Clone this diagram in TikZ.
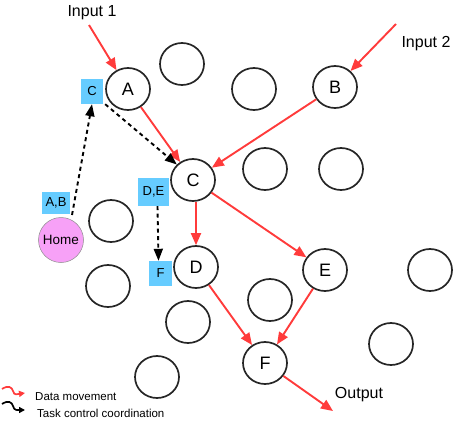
\documentclass[tikz,border=0pt]{standalone}
\usepackage{fontspec}
\setmainfont{Liberation Sans}
\usetikzlibrary{arrows.meta,shapes.geometric}
\definecolor{dred}{HTML}{FF3B3B}
\definecolor{tblue}{HTML}{66CCFF}
\definecolor{hpink}{HTML}{F7A1F7}
\begin{document}
\begin{tikzpicture}[x=1pt,y=-1pt,
  pe/.style={draw=black!85,line width=1.7pt,ellipse,minimum width=44pt,minimum height=42pt,inner sep=0pt,font=\fontsize{18}{18}\selectfont},
  tbox/.style={fill=tblue,inner sep=0pt,font=\fontsize{13}{13}\selectfont},
  dm/.style={draw=dred,line width=1.9pt,-{Triangle[length=12pt,width=10pt]}},
  tc/.style={draw=black,line width=1.9pt,dash pattern=on 4pt off 3.5pt,-{Triangle[length=12pt,width=9pt]}},
  lbl/.style={font=\fontsize{16}{16}\selectfont,inner sep=0pt},
  leg/.style={anchor=west,inner sep=0pt,font=\fontsize{11.5}{11.5}\selectfont}]
\useasboundingbox (0,0) rectangle (457,423);
% processing elements
\node[pe] (A) at (128,89) {A};
\node[pe] (B) at (335,87) {B};
\node[pe] (C) at (193,180) {C};
\node[pe] (D) at (196,267) {D};
\node[pe] (E) at (325,270) {E};
\node[pe] (F) at (265,363) {F};
\node[pe] (e1) at (182,64) {};
\node[pe] (e2) at (254,89) {};
\node[pe] (e3) at (265,169) {};
\node[pe] (e4) at (341,169) {};
\node[pe] (e5) at (111,221) {};
\node[pe] (e6) at (108,286) {};
\node[pe] (e7) at (188,322) {};
\node[pe] (e8) at (157,377) {};
\node[pe] (e9) at (430,270) {};
\node[pe] (e10) at (270,300) {};
\node[pe] (e11) at (391,344) {};
% home
\node[circle,draw=black!45,line width=0.5pt,fill=hpink,minimum size=45pt,inner sep=0pt,font=\fontsize{13.5}{13.5}\selectfont] (H) at (61,240) {Home};
% task boxes
\node[tbox,minimum width=22pt,minimum height=25pt] (tC) at (92,91.5) {C};
\node[tbox,minimum width=31pt,minimum height=28pt] (tDE) at (153.5,192) {D,E};
\node[tbox,minimum width=28pt,minimum height=22pt] (tAB) at (56,203) {A,B};
\node[tbox,minimum width=23pt,minimum height=25pt] (tF) at (160.5,273.5) {F};
% labels
\node[lbl] (in1) at (92,13) {Input 1};
\node[lbl] (in2) at (426,44) {Input 2};
\node[lbl] (out) at (359,395) {Output};
\coordinate (i1s) at (89,25);
\coordinate (i2s) at (396,24);
\coordinate (oe) at (333,411);
% data movement
\draw[dm] (i1s) -- (A);
\draw[dm] (i2s) -- (B);
\draw[dm] (A) -- (C);
\draw[dm] (B) -- (C);
\draw[dm] (C.south -| D.north) -- (D);
\draw[dm] (C) -- (E);
\draw[dm] (D) -- (F);
\draw[dm] (E) -- (F);
\draw[dm] (F) -- (oe);
% task control
\coordinate (hs) at (72,215);
\draw[tc] (hs) -- (tC.south);
\draw[tc] (tC.south east) ++(2,0) -- (C.north west);
\draw[tc] (tDE.south) ++(4,0) -- ([xshift=-2pt]tF.north);
% legend
\coordinate (l1s) at (2,389);
\coordinate (l1e) at (25,393);
\coordinate (l2s) at (2,404);
\coordinate (l2e) at (25,410);
\draw[draw=dred,line width=1.7pt,-{Triangle[length=6pt,width=6pt]}] (l1s) .. controls (8,385) and (12,387) .. (13,391) .. controls (14,396) and (18,394) .. (l1e);
\draw[draw=black,line width=1.7pt,-{Triangle[length=6pt,width=6pt]}] (l2s) .. controls (8,400) and (12,402) .. (13,406) .. controls (14,411) and (18,410) .. (l2e);
\node[leg] (lt1) at (35,397) {Data movement};
\node[leg] (lt2) at (37,413) {Task control coordination};
\end{tikzpicture}
\end{document}
